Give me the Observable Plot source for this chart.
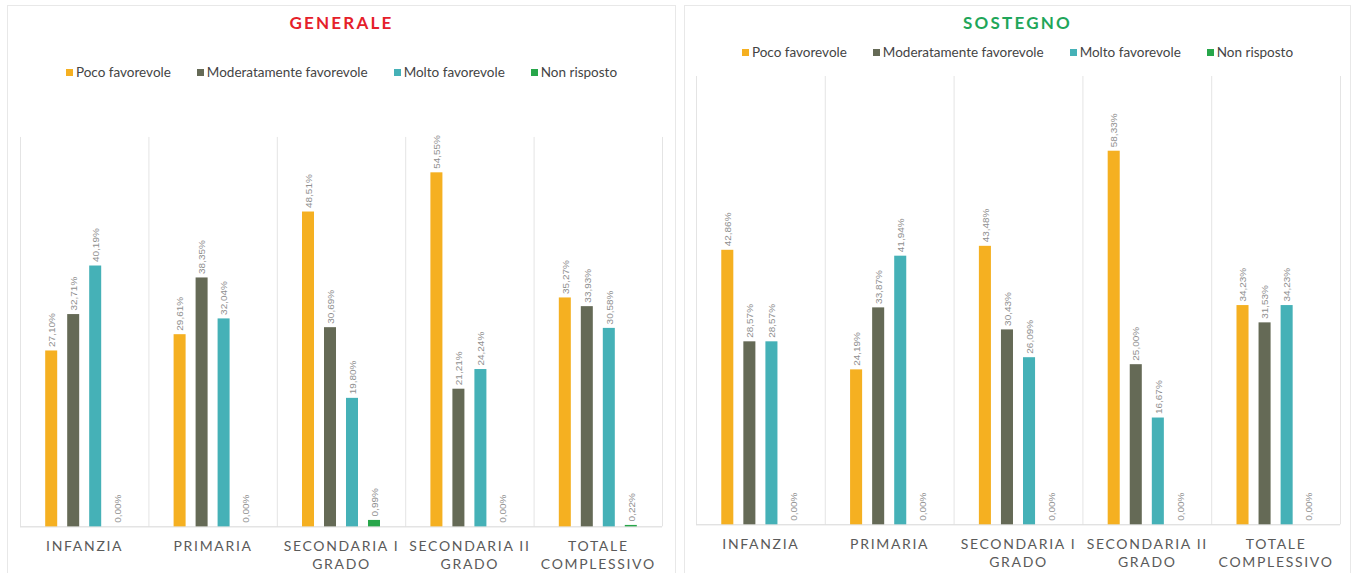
<!DOCTYPE html>
<html>
<head>
<meta charset="utf-8">
<script src="https://cdn.jsdelivr.net/npm/d3@7"></script>
<script src="https://cdn.jsdelivr.net/npm/@observablehq/plot@0.6"></script>
<style>
  html, body { margin: 0; padding: 0; background: #fff; }
  body { width: 1353px; height: 573px; position: relative; overflow: hidden; font-family: Lato, "Open Sans", sans-serif; }
  .panel { position: absolute; border: 1px solid #e8e8e8; box-sizing: border-box; background: #fff; }
  .title { position: absolute; left: 0; right: 0; text-align: center; font-weight: bold; font-size: 17px; letter-spacing: 2.2px; font-family: Lato, sans-serif; }
  .legend { position: absolute; left: 0; right: 0; text-align: center; font-size: 13.5px; color: #444; font-family: Lato, sans-serif; white-space: nowrap; }
  .legend span.item { display: inline-block; margin: 0 13px; }
  .legend span.sw { display: inline-block; width: 7px; height: 7px; margin-right: 3px; vertical-align: 1px; }
  .plotwrap { position: absolute; }
  .catlab text { letter-spacing: 1.7px; }
</style>
</head>
<body>
<div id="root"></div>
<script>
const categories = ["INFANZIA", "PRIMARIA", "SECONDARIA I\nGRADO", "SECONDARIA II\nGRADO", "TOTALE\nCOMPLESSIVO"];
const series = ["Poco favorevole", "Moderatamente favorevole", "Molto favorevole", "Non risposto"];
const colors = ["#F5B021", "#656A56", "#45B1B7", "#27A64A"];

// GENERALE
const genPoco = [27.10, 29.61, 48.51, 54.55, 35.27];
const genModerato = [32.71, 38.35, 30.69, 21.21, 33.93];
const genMolto = [40.19, 32.04, 19.80, 24.24, 30.58];
const genNonRisposto = [0.00, 0.00, 0.99, 0.00, 0.22];

// SOSTEGNO
const sosPoco = [42.86, 24.19, 43.48, 58.33, 34.23];
const sosModerato = [28.57, 33.87, 30.43, 25.00, 31.53];
const sosMolto = [28.57, 41.94, 26.09, 16.67, 34.23];
const sosNonRisposto = [0.00, 0.00, 0.00, 0.00, 0.00];

const pitch = 0.1713, barW = 0.0935;

function buildRows(arrs) {
  const rows = [];
  arrs.forEach((arr, j) => arr.forEach((v, i) => {
    const c = i + 0.5 + (j - 1.5) * pitch;
    rows.push({cat: categories[i], series: series[j], value: v, x1: c - barW / 2, x2: c + barW / 2, xc: c});
  }));
  return rows;
}

const fmt = v => v.toFixed(2).replace(".", ",") + "%";

function makePanel(cfg) {
  const panel = document.createElement("div");
  panel.className = "panel";
  Object.assign(panel.style, {left: cfg.left + "px", top: "5px", width: cfg.width + "px", height: "580px"});

  const t = document.createElement("div");
  t.className = "title";
  t.style.top = cfg.titleTop + "px";
  t.style.color = cfg.titleColor;
  t.textContent = cfg.title;
  panel.appendChild(t);

  const lg = document.createElement("div");
  lg.className = "legend";
  lg.style.top = cfg.legendTop + "px";
  series.forEach((s, j) => {
    const it = document.createElement("span");
    it.className = "item";
    const sw = document.createElement("span");
    sw.className = "sw";
    sw.style.background = colors[j];
    it.appendChild(sw);
    it.appendChild(document.createTextNode(s));
    lg.appendChild(it);
  });
  panel.appendChild(lg);

  const rows = buildRows(cfg.data);
  const idx = categories.map((c, i) => ({label: c, x: i + 0.5}));
  const edges = d3.range(0, categories.length + 1);

  const chart = Plot.plot({
    width: cfg.width,
    height: cfg.height,
    marginLeft: cfg.marginLeft,
    marginRight: cfg.marginRight,
    marginTop: cfg.marginTop,
    marginBottom: 48,
    x: {domain: [0, categories.length], axis: null},
    y: {domain: [0, cfg.ymax], axis: null},
    color: {domain: series, range: colors},
    style: {background: "transparent", overflow: "visible"},
    marks: [
      Plot.ruleX(edges, {x: d => d, y1: 0, y2: cfg.ymax, stroke: "#e4e4e4", strokeWidth: 1}),
      Plot.ruleY([0], {x1: 0, x2: categories.length, stroke: "#d6d6d6", strokeWidth: 1}),
      Plot.rectY(rows.filter(d => d.value > 0), {x1: "x1", x2: "x2", y1: 0, y2: "value", fill: "series"}),
      Plot.text(rows, {x: "xc", y: "value", text: d => fmt(d.value), rotate: -90, textAnchor: "start", dy: -4,
        fill: "#8f8f8f", fontSize: 10, fontFamily: "'Liberation Sans', Arial, sans-serif"}),
      Plot.text(idx, {x: "x", y: 0, text: "label", dy: 12, lineAnchor: "top", lineHeight: 1.25,
        fill: "#5a5a5a", fontSize: 14, fontFamily: "Lato, sans-serif", className: "catlab"})
    ]
  });
  const wrap = document.createElement("div");
  wrap.className = "plotwrap";
  wrap.style.left = "-1px";
  wrap.style.top = (cfg.svgTop - 6) + "px";
  wrap.appendChild(chart);
  panel.appendChild(wrap);
  document.getElementById("root").appendChild(panel);
}

makePanel({
  left: 7, width: 669, title: "GENERALE", titleColor: "#E5202A", titleTop: 6, legendTop: 58,
  data: [genPoco, genModerato, genMolto, genNonRisposto],
  svgTop: 102, marginTop: 35, height: 473, ymax: 60, marginLeft: 13, marginRight: 13
});
makePanel({
  left: 684, width: 667, title: "SOSTEGNO", titleColor: "#1FA65A", titleTop: 6, legendTop: 38,
  data: [sosPoco, sosModerato, sosMolto, sosNonRisposto],
  svgTop: 61, marginTop: 15, height: 512, ymax: 70, marginLeft: 12, marginRight: 10
});
</script>
</body>
</html>
